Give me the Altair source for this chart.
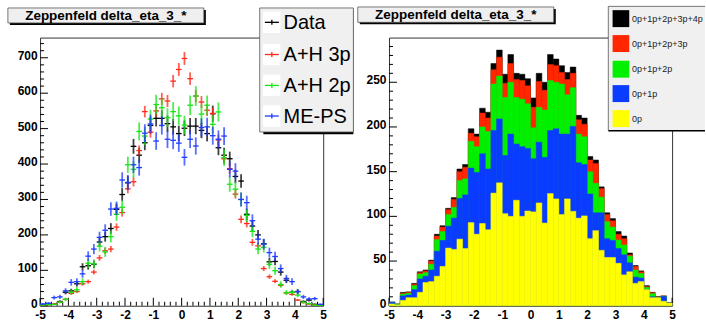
import altair as alt
import pandas as pd

# ---------------- data ----------------
bin_centers = [-4.9, -4.7, -4.5, -4.3, -4.1, -3.9, -3.7, -3.5, -3.3, -3.1,
               -2.9, -2.7, -2.5, -2.3, -2.1, -1.9, -1.7, -1.5, -1.3, -1.1,
               -0.9, -0.7, -0.5, -0.3, -0.1, 0.1, 0.3, 0.5, 0.7, 0.9,
               1.1, 1.3, 1.5, 1.7, 1.9, 2.1, 2.3, 2.5, 2.7, 2.9,
               3.1, 3.3, 3.5, 3.7, 3.9, 4.1, 4.3, 4.5, 4.7, 4.9]

data_vals = [3, 5, 4, 12, 38, 42, 62, 110, 113, 117,
             180, 195, 218, 272, 314, 347, 450, 425, 460, 509,
             529, 529, 514, 505, 486, 501, 507, 507, 495, 486,
             542, 446, 425, 415, 365, 352, 258, 225, 200, 175,
             124, 125, 95, 72, 38, 40, 12, 16, 4, 2]
data_err = [2, 2, 2, 3, 6, 6, 8, 10, 11, 11,
            13, 14, 15, 16, 18, 19, 21, 21, 21, 23,
            23, 23, 23, 22, 22, 22, 23, 23, 22, 22,
            23, 21, 21, 20, 19, 19, 16, 15, 14, 13,
            11, 11, 10, 8, 6, 6, 3, 4, 2, 1]

ah3p_vals = [2, 3, 5, 10, 18, 35, 40, 62, 68, 95,
             135, 155, 160, 222, 263, 330, 350, 438, 548, 490,
             550, 584, 578, 634, 667, 698, 641, 592, 575, 552,
             543, 468, 415, 387, 315, 244, 232, 179, 169, 105,
             82, 69, 58, 36, 32, 16, 9, 5, 2, 1]
ah3p_err = [1, 1.2, 1.6, 2.2, 3, 4.1, 4.4, 5.5, 5.8, 6.8,
            8.1, 8.7, 8.9, 10.4, 11.4, 12.7, 13.1, 14.6, 16.4, 15.5,
            16.4, 16.9, 16.8, 17.6, 18.1, 18.5, 17.7, 17, 16.8, 16.4,
            16.3, 15.1, 14.3, 13.8, 12.4, 10.9, 10.7, 9.4, 9.1, 7.2,
            6.3, 5.8, 5.3, 4.2, 4, 2.8, 2.1, 1.6, 1, 0.7]

ah2p_vals = [2, 3, 4, 10, 18, 38, 45, 68, 120, 118,
             168, 152, 195, 258, 278, 398, 385, 492, 479, 527,
             568, 559, 531, 548, 536, 510, 566, 592, 541, 566,
             512, 547, 418, 343, 329, 300, 255, 210, 160, 165,
             117, 99, 60, 37, 38, 30, 10, 6, 2, 1]
ah2p_err = [1.6, 2, 2.3, 3.6, 4.9, 7.1, 7.7, 9.5, 12.6, 12.5,
            14.9, 14.2, 16.1, 18.5, 19.2, 22.9, 22.6, 25.5, 25.2, 26.4,
            27.4, 27.2, 26.5, 26.9, 26.6, 26, 27.4, 28, 26.7, 27.4,
            26, 26.9, 23.5, 21.3, 20.9, 19.9, 18.4, 16.7, 14.5, 14.8,
            12.4, 11.4, 8.9, 7, 7.1, 6.3, 3.6, 2.8, 1.6, 1.2]

meps_vals = [5, 7, 23, 25, 42, 66, 68, 90, 140, 160,
             193, 213, 273, 275, 355, 348, 398, 390, 487, 513,
             465, 509, 470, 467, 459, 419, 470, 451, 503, 505,
             480, 470, 479, 385, 380, 300, 291, 240, 188, 174,
             150, 139, 105, 77, 68, 40, 25, 19, 20, 4]
meps_err = [2.6, 3, 5.5, 5.8, 7.5, 9.3, 9.5, 10.9, 13.6, 14.5,
            16, 16.8, 19, 19.1, 21.7, 21.4, 22.9, 22.7, 25.4, 26,
            24.8, 25.9, 24.9, 24.9, 24.6, 23.5, 24.9, 24.4, 25.8, 25.8,
            25.2, 24.9, 25.2, 22.6, 22.4, 19.9, 19.6, 17.8, 15.8, 15.2,
            14.1, 13.6, 11.8, 10.1, 9.5, 7.3, 5.8, 5, 5.1, 2.3]

# cumulative stacks (right panel)
stack_0p = [2, 1, 6, 9, 9, 15, 26, 27, 33, 44,
            64.5, 63, 74.5, 64, 93, 80, 92, 85, 126, 137.5,
            103, 100, 118, 100, 106, 105, 115, 92.5, 125.5, 119.5,
            102, 119.5, 105.6, 98, 100.5, 75, 84, 62, 54, 54,
            47.5, 34.5, 38, 25, 27, 18, 9, 9, 5, 3]
stack_1p = [4, 1, 11, 12, 18, 30, 33, 40, 61, 73,
            89, 98, 120, 124, 154, 149, 170, 153, 196, 209,
            168, 192, 181, 178, 176, 164.5, 183, 166, 196, 198,
            192, 192, 200.6, 160, 158, 125, 104, 104, 75, 73,
            64, 57, 48, 32, 31, 18, 10, 9.3, 10.4, 3]
stack_2p = [4, 2, 13, 14, 22.5, 35.5, 37, 46.5, 74, 83,
            102, 110, 140, 142, 184, 178, 200, 195, 248, 257,
            233, 250, 233, 231, 226, 199, 222, 219, 252, 250,
            248, 236, 244, 192, 189, 150, 137, 121.5, 94, 88,
            73.5, 68, 55.5, 40, 36, 20.5, 13.5, 9.6, 10.5, 3]
stack_3p = [4, 2, 14, 15, 24, 37, 39, 50, 78, 88,
            107.5, 119, 150, 155, 193, 189, 215.5, 210, 264, 278,
            249, 271, 253, 252, 246, 222, 251, 241, 270, 268.6,
            261, 253, 260, 208, 203, 163, 159, 131, 102, 95,
            80, 75, 57, 44, 38, 21.5, 14.5, 10, 11, 3]
stack_4p = [4, 2, 15, 15.5, 25, 38, 40, 51, 80, 89.5,
            109, 121, 153, 158, 198, 192, 221, 216.5, 271, 286,
            259, 281, 260, 259, 254, 232.5, 260, 250, 281, 276,
            268.6, 261, 267, 213, 210, 167, 163, 133, 104, 97.5,
            83, 78, 59, 45, 39, 22.5, 15, 10.4, 11, 3.5]

title_text = "Zeppenfeld delta_eta_3_*"
left_labels = ["Data", "A+H 3p", "A+H 2p", "ME-PS"]
left_colors = ["#000000", "#ff2a1a", "#14e614", "#1e3cff"]
stack_labels = ["0p+1p+2p+3p+4p", "0p+1p+2p+3p", "0p+1p+2p", "0p+1p", "0p"]
stack_colors = ["#000000", "#ff2600", "#00f000", "#0a3cff", "#ffff00"]

x_major = [-5, -4, -3, -2, -1, 0, 1, 2, 3, 4, 5]
x_minor = [round(-5 + 0.2 * i, 1) for i in range(51) if i % 5 != 0]
left_y_major = [0, 100, 200, 300, 400, 500, 600, 700]
left_y_minor = [v for v in range(20, 760, 20) if v % 100 != 0]
right_y_major = [0, 50, 100, 150, 200, 250]
right_y_minor = [v for v in range(10, 301, 10) if v % 50 != 0]

# ---------------- layout ----------------
W, H = 284, 269
FONT = "Liberation Sans, Arial, Helvetica, sans-serif"
LEFT_YMAX = 757
RIGHT_YMAX = 300

xs = alt.Scale(domain=[-5, 5], nice=False, zero=False)
ys_left = alt.Scale(domain=[0, LEFT_YMAX], nice=False, zero=False)
ys_right = alt.Scale(domain=[0, RIGHT_YMAX], nice=False, zero=False)

minus_fix = "replace(datum.label, '\u2212', '-')"


def make_axis(values, pad, offset):
    return alt.Axis(values=values, domain=False, ticks=False, tickSize=0, grid=False,
                    labelFont=FONT, labelFontWeight="bold", labelFontSize=12,
                    labelColor="#000000", labelPadding=pad, labelOffset=offset,
                    labelFlush=False, labelOverlap=False, labelExpr=minus_fix, title=None)


x_axis = make_axis(x_major, 3.5, 0)
yl_axis = make_axis(left_y_major, 3, -2.5)
yr_axis = make_axis(right_y_major, 3, -2.5)


def X(f):
    return alt.X(f, scale=xs, axis=x_axis)


one = pd.DataFrame({"k": [0]})


def rect(x1, x2, y1, y2, **kw):
    return alt.Chart(one).mark_rect(**kw).encode(
        x=alt.value(x1), x2=alt.value(x2), y=alt.value(y1), y2=alt.value(y2))


def hline(x1, x2, y, color, w):
    return alt.Chart(one).mark_rule(color=color, strokeWidth=w).encode(
        x=alt.value(x1), x2=alt.value(x2), y=alt.value(y))


def vline(x, y1, y2, color, w):
    return alt.Chart(one).mark_rule(color=color, strokeWidth=w).encode(
        x=alt.value(x), y=alt.value(y1), y2=alt.value(y2))


def text(x, y, s, **kw):
    return alt.Chart(one).mark_text(text=s, font=FONT, baseline="middle", **kw).encode(
        x=alt.value(x), y=alt.value(y))


def tick_layers(ys, yaxis, y_major, y_minor):
    out = []
    out.append(alt.Chart(pd.DataFrame({"t": y_minor})).mark_rule(color="#000", strokeWidth=1).encode(
        x=alt.value(0), x2=alt.value(4), y=alt.Y("t:Q", scale=ys, axis=yaxis)))
    out.append(alt.Chart(pd.DataFrame({"t": y_major})).mark_rule(color="#000", strokeWidth=1).encode(
        x=alt.value(0), x2=alt.value(8), y=alt.Y("t:Q", scale=ys, axis=yaxis)))
    out.append(alt.Chart(pd.DataFrame({"t": x_minor})).mark_rule(color="#000", strokeWidth=1).encode(
        x=X("t:Q"), y=alt.value(H), y2=alt.value(H - 4)))
    out.append(alt.Chart(pd.DataFrame({"t": x_major})).mark_rule(color="#000", strokeWidth=1).encode(
        x=X("t:Q"), y=alt.value(H), y2=alt.value(H - 8)))
    return out


def title_box(x1, x2, y1, y2):
    return [
        rect(x1 + 2, x2 + 2, y1 + 2, y2 + 2, fill="#000000"),
        rect(x1, x2, y1, y2, fill="#efefef", stroke="#555555", strokeWidth=0.8),
        text((x1 + x2) / 2, (y1 + y2) / 2 + 0.5, title_text, align="center",
             fontSize=13.5, fontWeight="bold", color="#000000"),
    ]


# ---------------- left panel ----------------
def point_layers(vals, errs, color):
    df = pd.DataFrame({"x": bin_centers, "v": vals, "e": errs})
    base = alt.Chart(df).transform_calculate(
        lo="datum.v - datum.e", hi="datum.v + datum.e",
        xl="datum.x - 0.1", xr="datum.x + 0.1")
    vert = base.mark_rule(color=color, strokeWidth=1.8, opacity=0.75).encode(
        x=X("x:Q"), y=alt.Y("lo:Q", scale=ys_left, axis=yl_axis), y2="hi:Q")
    horiz = base.mark_rule(color=color, strokeWidth=1.3).encode(
        x=X("xl:Q"), x2="xr:Q", y=alt.Y("v:Q", scale=ys_left, axis=yl_axis))
    return [vert, horiz]


left_layers = tick_layers(ys_left, yl_axis, left_y_major, left_y_minor)
for vals, errs, col in [(data_vals, data_err, left_colors[0]),
                        (ah3p_vals, ah3p_err, left_colors[1]),
                        (ah2p_vals, ah2p_err, left_colors[2]),
                        (meps_vals, meps_err, left_colors[3])]:
    left_layers += point_layers(vals, errs, col)

left_layers += title_box(-32.3, 164.3, -29.7, -14.7)

# legend (left)
left_layers.append(rect(224, 314.3, -27.7, 96.9, fill="#000000"))
left_layers.append(rect(220.3, 314.3, -29.7, 94.7, fill="#f0f0f0", stroke="#555555", strokeWidth=0.8))
leg_centers = [-15.3, 17, 48, 78.7]
for lab, col, cy in zip(left_labels, left_colors, leg_centers):
    left_layers.append(rect(223.7, 241, cy - 10.7, cy + 10.7, fill="#ffffff"))
    left_layers.append(hline(225.5, 239.5, cy, col, 1.3))
    left_layers.append(vline(232.5, cy - 2.5, cy + 2.5, col, 1.3))
    left_layers.append(text(244.3, cy + 0.5, lab, align="left", fontSize=20, color="#000000"))

left = alt.layer(*left_layers).properties(width=W, height=H)

# ---------------- right panel ----------------
def bar_layer(vals, color):
    df = pd.DataFrame({"x": bin_centers, "v": vals})
    return alt.Chart(df).transform_calculate(
        xl="datum.x - 0.1", xr="datum.x + 0.1").mark_rect(
        color=color, stroke=color, strokeWidth=0.5).encode(
        x=X("xl:Q"), x2="xr:Q",
        y=alt.Y("v:Q", scale=ys_right, axis=yr_axis), y2=alt.value(H))


right_layers = tick_layers(ys_right, yr_axis, right_y_major, right_y_minor)
for vals, col in zip([stack_4p, stack_3p, stack_2p, stack_1p, stack_0p], stack_colors):
    right_layers.append(bar_layer(vals, col))

right_layers += title_box(-31.3, 165.3, -30.7, -15.3)

# legend (right)
right_layers.append(rect(220, 317, 92.7, 94.3, fill="#000000"))
right_layers.append(rect(220, 317, -31.3, 92.7, fill="#f0f0f0"))
right_layers.append(hline(220, 317, -31.3, "#555555", 0.8))
right_layers.append(vline(220, -31.3, 93, "#555555", 0.8))
sq_centers = [-19, 6, 31.7, 56.2, 81.3]
for lab, col, cy in zip(stack_labels, stack_colors, sq_centers):
    right_layers.append(rect(224.3, 241, cy - 8.5, cy + 8.5, fill=col))
    right_layers.append(text(243.7, cy, lab, align="left", fontSize=9, color="#222222"))

right = alt.layer(*right_layers).properties(width=W, height=H)

chart = alt.hconcat(left, right, spacing=66, bounds="flush").properties(
    padding={"left": 6.2, "top": 4.2, "right": 0, "bottom": 0},
    background="#ffffff",
).configure_view(stroke="#333333", strokeWidth=1)

chart.save("out.html", embed_options={"renderer": "svg", "actions": False})
